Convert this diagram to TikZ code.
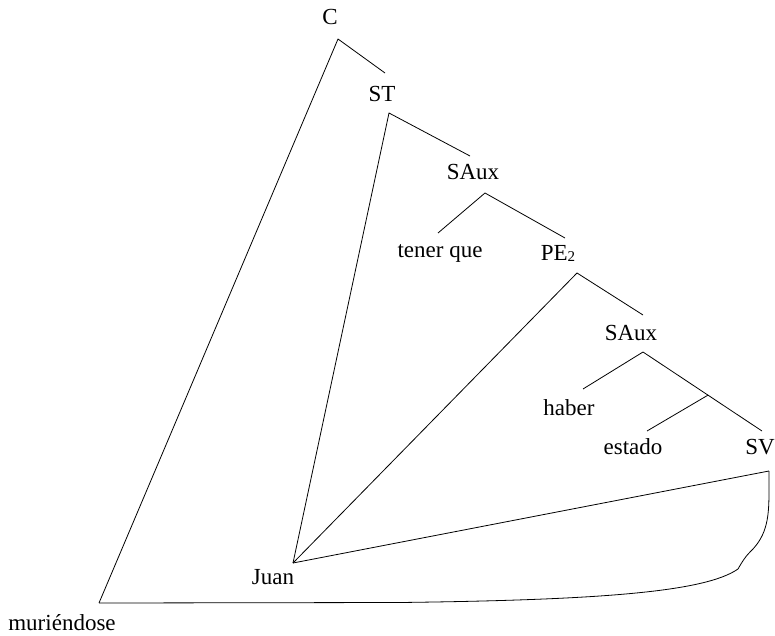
\documentclass[tikz,border=0pt]{standalone}
\usepackage{fontspec}
\setmainfont{Liberation Serif}
\usetikzlibrary{calc}
\begin{document}
\begin{tikzpicture}[x=1pt,y=-1pt,
  lbl/.style={anchor=base,inner sep=0pt,font=\fontsize{23}{27}\selectfont},
  edge/.style={line width=0.8pt,line join=round}]
\useasboundingbox (0,0) rectangle (775,636);
% labels
\node[lbl] (C) at (330,25) {C};
\node[lbl] (ST) at (382,102) {ST};
\node[lbl] (SA1) at (473,180) {SAux};
\node[lbl] (TQ) at (440,257) {tener que};
\node[lbl] (PE) at (558,260) {PE\raisebox{-1.5pt}{\fontsize{15}{15}\selectfont 2}};
\node[lbl] (SA2) at (631,340) {SAux};
\node[lbl] (HB) at (569,415) {haber};
\node[lbl] (ES) at (633,454) {estado};
\node[lbl] (SV) at (760,454) {SV};
\node[lbl] (JU) at (273,584) {Juan};
\node[lbl] (MU) at (62,630) {muriéndose};
% attachment points
\coordinate (Ca) at (338,39);
\coordinate (STt) at (385,73);
\coordinate (STa) at (389,113);
\coordinate (SA1t) at (470,156);
\coordinate (SA1a) at (485,193);
\coordinate (TQt) at (438,233);
\coordinate (PEt) at (565,238);
\coordinate (PEa) at (577,273);
\coordinate (SA2t) at (643,315);
\coordinate (SA2a) at (643,352);
\coordinate (HBt) at (583,389);
\coordinate (SVt) at (762,431);
\coordinate (Br) at ($(SA2a)!0.546!(SVt)$);
\coordinate (ESt) at (647,431);
\coordinate (SVc) at (769,471);
\coordinate (Ja) at (293,563);
\coordinate (Ma) at (99,603);
% connectors
\draw[edge] (STt) -- (Ca) -- (Ma);
\draw[edge] (SA1t) -- (STa) -- (Ja);
\draw[edge] (TQt) -- (SA1a) -- (PEt);
\draw[edge] (SA2t) -- (PEa) -- (Ja);
\draw[edge] (HBt) -- (SA2a) -- (SVt);
\draw[edge] (Br) -- (ESt);
\draw[edge] (SVc) -- (Ja);
\draw[edge] (Ma) -- (400,602.5)
  .. controls (600,600) and (705,592) .. (738,569)
  .. controls (742,562) and (745,557) .. (750,552)
  .. controls (768,535) and (769,515) .. (769,490) -- (SVc);
\end{tikzpicture}
\end{document}
